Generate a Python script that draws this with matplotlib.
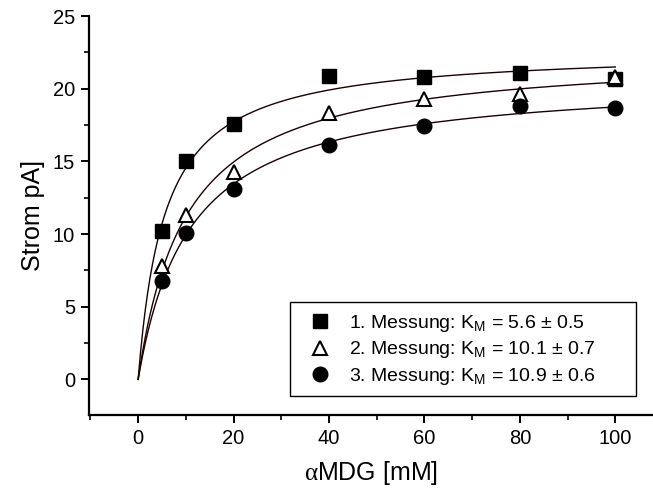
import numpy as np
import matplotlib
matplotlib.use("Agg")
import matplotlib.pyplot as plt
from matplotlib.ticker import MultipleLocator
from matplotlib.patches import Rectangle

plt.rcParams['font.family'] = ['Liberation Sans', 'DejaVu Sans']
plt.rcParams['mathtext.fontset'] = 'custom'
plt.rcParams['mathtext.rm'] = 'Liberation Sans'
plt.rcParams['mathtext.sf'] = 'Liberation Serif'

conc = [5, 10, 20, 40, 60, 80, 100]
strom1 = [10.2, 15.0, 17.6, 20.9, 20.8, 21.1, 20.7]
strom2 = [7.8, 11.3, 14.3, 18.3, 19.3, 19.6, 20.8]
strom3 = [6.8, 10.1, 13.1, 16.1, 17.4, 18.8, 18.7]
km_values = [5.6, 10.1, 10.9]
km_errors = [0.5, 0.7, 0.6]
labels = ["1. Messung", "2. Messung", "3. Messung"]

W, H = 653, 493
fig = plt.figure(figsize=(W / 100, H / 100), dpi=100)
ax = fig.add_axes([89 / W, (H - 415) / H, 1 - 89 / W, (415 - 16) / H])

x = np.array(conc, dtype=float)
xf = np.linspace(0, 100, 400)
series = [strom1, strom2, strom3]
styles = [
    dict(marker='s', mfc='black', mec='black', ms=10, mew=1),
    dict(marker='^', mfc='white', mec='black', ms=10.5, mew=1.5),
    dict(marker='o', mfc='black', mec='black', ms=10.5, mew=1),
]
# fitted curves (Michaelis-Menten, Vmax by least squares for given K_M)
for ys, km in zip(series, km_values):
    y = np.array(ys)
    f = x / (km + x)
    vmax = np.sum(y * f) / np.sum(f * f)
    ax.plot(xf, vmax * xf / (km + xf), color='#1a0000', lw=1.0, zorder=2)

handles = []
for ys, km, err, lab, st in zip(series, km_values, km_errors, labels, styles):
    h, = ax.plot(conc, ys, ls='none', zorder=3, **st,
                 label=f"{lab}: K$_\\mathregular{{M}}$ = {km} ± {err}")
    handles.append(h)

ax.set_xlim(-10.3, 107.9)
ax.set_ylim(-2.45, 25)
ax.xaxis.set_major_locator(MultipleLocator(20))
ax.xaxis.set_minor_locator(MultipleLocator(10))
ax.yaxis.set_major_locator(MultipleLocator(5))
ax.yaxis.set_minor_locator(MultipleLocator(2.5))
ax.spines['top'].set_visible(False)
ax.spines['right'].set_visible(False)
for s in ['left', 'bottom']:
    ax.spines[s].set_linewidth(1.6)
ax.tick_params(which='major', direction='out', length=6, width=1.4, labelsize=14.5, pad=4)
ax.tick_params(which='minor', direction='out', length=3.5, width=1.2)
ax.set_xlabel(r"$\mathsf{\alpha}$MDG [mM]", fontsize=18, labelpad=8)
ax.set_ylabel("Strom pA]", fontsize=18, labelpad=6)

# legend frame
fig.patches.append(Rectangle((290 / W, (H - 396) / H), (636 - 290) / W, (396 - 302) / H,
                             transform=fig.transFigure, fill=False, edgecolor='black',
                             linewidth=1.0, zorder=5))
leg = fig.legend(handles=handles, loc='upper left',
                 bbox_to_anchor=(306 / W, (H - 313) / H),
                 fontsize=14, frameon=False, borderpad=0.0, labelspacing=0.28,
                 handletextpad=0.8, handlelength=1.4, borderaxespad=0.0)

fig.savefig("out.png", dpi=100)
